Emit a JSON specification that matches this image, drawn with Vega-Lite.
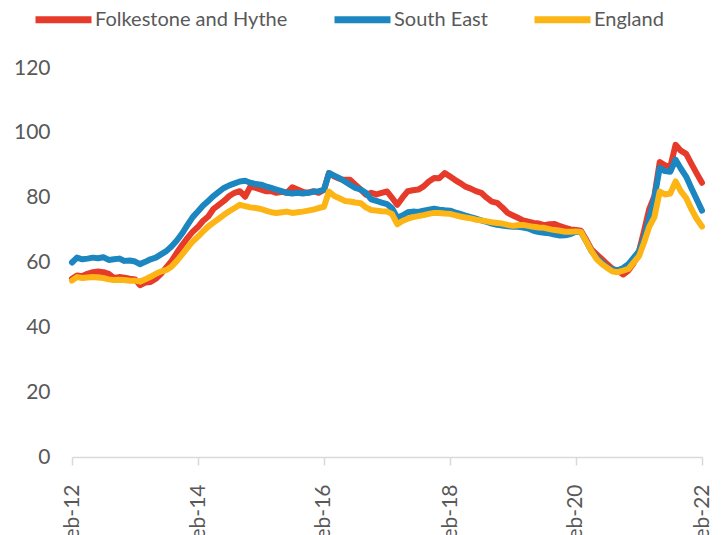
{
 "$schema": "https://vega.github.io/schema/vega-lite/v6.json",
 "width": 630, "height": 389,
 "autosize": {"type": "none"},
 "padding": {"left": 72, "top": 68, "right": 20, "bottom": 78},
 "background": "white",
 "config": {"view": {"stroke": null}, "font": "Lato"},
 "data": {"values": [
  {"d":"2012-02-01","F":55.0,"S":60.0,"E":54.4},
  {"d":"2012-03-01","F":56.0,"S":61.5,"E":55.5},
  {"d":"2012-04-01","F":55.8,"S":61.0,"E":55.2},
  {"d":"2012-05-01","F":56.5,"S":61.2,"E":55.4},
  {"d":"2012-06-01","F":57.0,"S":61.5,"E":55.5},
  {"d":"2012-07-01","F":57.2,"S":61.3,"E":55.4},
  {"d":"2012-08-01","F":57.0,"S":61.6,"E":55.2},
  {"d":"2012-09-01","F":56.5,"S":60.8,"E":54.8},
  {"d":"2012-10-01","F":55.2,"S":61.0,"E":54.6},
  {"d":"2012-11-01","F":55.5,"S":61.2,"E":54.7},
  {"d":"2012-12-01","F":55.3,"S":60.5,"E":54.6},
  {"d":"2013-01-01","F":55.0,"S":60.6,"E":54.4},
  {"d":"2013-02-01","F":54.8,"S":60.3,"E":54.4},
  {"d":"2013-03-01","F":53.0,"S":59.5,"E":54.1},
  {"d":"2013-04-01","F":53.8,"S":60.2,"E":54.8},
  {"d":"2013-05-01","F":54.0,"S":61.0,"E":55.6},
  {"d":"2013-06-01","F":55.0,"S":61.5,"E":56.5},
  {"d":"2013-07-01","F":56.5,"S":62.5,"E":57.2},
  {"d":"2013-08-01","F":58.5,"S":63.5,"E":57.7},
  {"d":"2013-09-01","F":60.5,"S":65.0,"E":58.8},
  {"d":"2013-10-01","F":63.0,"S":66.8,"E":60.5},
  {"d":"2013-11-01","F":65.4,"S":69.0,"E":62.5},
  {"d":"2013-12-01","F":67.5,"S":71.5,"E":64.5},
  {"d":"2014-01-01","F":69.5,"S":74.0,"E":66.5},
  {"d":"2014-02-01","F":71.0,"S":75.8,"E":68.0},
  {"d":"2014-03-01","F":72.8,"S":77.5,"E":69.5},
  {"d":"2014-04-01","F":74.2,"S":79.0,"E":71.1},
  {"d":"2014-05-01","F":76.5,"S":80.5,"E":72.3},
  {"d":"2014-06-01","F":77.8,"S":81.8,"E":73.5},
  {"d":"2014-07-01","F":79.0,"S":83.0,"E":74.7},
  {"d":"2014-08-01","F":80.5,"S":83.8,"E":75.8},
  {"d":"2014-09-01","F":81.5,"S":84.4,"E":76.8},
  {"d":"2014-10-01","F":82.0,"S":85.0,"E":77.8},
  {"d":"2014-11-01","F":80.3,"S":85.2,"E":77.4},
  {"d":"2014-12-01","F":83.4,"S":84.6,"E":77.0},
  {"d":"2015-01-01","F":83.0,"S":84.2,"E":76.8},
  {"d":"2015-02-01","F":82.5,"S":84.0,"E":76.5},
  {"d":"2015-03-01","F":82.0,"S":83.5,"E":76.0},
  {"d":"2015-04-01","F":82.0,"S":83.0,"E":75.5},
  {"d":"2015-05-01","F":81.5,"S":82.5,"E":75.3},
  {"d":"2015-06-01","F":81.8,"S":82.0,"E":75.5},
  {"d":"2015-07-01","F":81.5,"S":81.5,"E":75.7},
  {"d":"2015-08-01","F":83.2,"S":81.3,"E":75.3},
  {"d":"2015-09-01","F":82.5,"S":81.5,"E":75.5},
  {"d":"2015-10-01","F":81.8,"S":81.3,"E":75.7},
  {"d":"2015-11-01","F":81.5,"S":81.5,"E":76.0},
  {"d":"2015-12-01","F":82.0,"S":81.8,"E":76.3},
  {"d":"2016-01-01","F":81.5,"S":82.0,"E":76.8},
  {"d":"2016-02-01","F":82.4,"S":82.4,"E":77.2},
  {"d":"2016-03-01","F":87.6,"S":87.6,"E":81.9},
  {"d":"2016-04-01","F":86.5,"S":86.8,"E":80.5},
  {"d":"2016-05-01","F":85.8,"S":86.0,"E":79.8},
  {"d":"2016-06-01","F":85.5,"S":85.0,"E":79.0},
  {"d":"2016-07-01","F":85.5,"S":84.0,"E":78.8},
  {"d":"2016-08-01","F":84.0,"S":83.0,"E":78.5},
  {"d":"2016-09-01","F":82.5,"S":82.5,"E":78.3},
  {"d":"2016-10-01","F":80.9,"S":81.5,"E":77.0},
  {"d":"2016-11-01","F":81.5,"S":79.5,"E":76.2},
  {"d":"2016-12-01","F":81.0,"S":79.0,"E":76.0},
  {"d":"2017-01-01","F":81.5,"S":78.5,"E":75.8},
  {"d":"2017-02-01","F":81.9,"S":78.0,"E":75.7},
  {"d":"2017-03-01","F":80.0,"S":76.8,"E":75.0},
  {"d":"2017-04-01","F":77.8,"S":73.8,"E":71.8},
  {"d":"2017-05-01","F":80.0,"S":74.5,"E":72.8},
  {"d":"2017-06-01","F":82.0,"S":75.5,"E":73.5},
  {"d":"2017-07-01","F":82.3,"S":75.7,"E":74.0},
  {"d":"2017-08-01","F":82.5,"S":75.6,"E":74.3},
  {"d":"2017-09-01","F":83.5,"S":76.0,"E":74.6},
  {"d":"2017-10-01","F":85.0,"S":76.3,"E":75.0},
  {"d":"2017-11-01","F":86.1,"S":76.6,"E":75.3},
  {"d":"2017-12-01","F":86.0,"S":76.3,"E":75.3},
  {"d":"2018-01-01","F":87.6,"S":76.1,"E":75.1},
  {"d":"2018-02-01","F":86.5,"S":76.0,"E":75.0},
  {"d":"2018-03-01","F":85.5,"S":75.5,"E":74.6},
  {"d":"2018-04-01","F":84.5,"S":75.0,"E":74.2},
  {"d":"2018-05-01","F":83.4,"S":74.5,"E":73.9},
  {"d":"2018-06-01","F":82.8,"S":74.0,"E":73.6},
  {"d":"2018-07-01","F":82.0,"S":73.5,"E":73.2},
  {"d":"2018-08-01","F":81.5,"S":73.0,"E":73.0},
  {"d":"2018-09-01","F":80.0,"S":72.5,"E":72.7},
  {"d":"2018-10-01","F":78.8,"S":72.0,"E":72.4},
  {"d":"2018-11-01","F":78.4,"S":71.6,"E":72.2},
  {"d":"2018-12-01","F":77.0,"S":71.4,"E":72.0},
  {"d":"2019-01-01","F":75.3,"S":71.2,"E":71.6},
  {"d":"2019-02-01","F":74.5,"S":71.0,"E":71.3},
  {"d":"2019-03-01","F":73.8,"S":71.0,"E":71.5},
  {"d":"2019-04-01","F":73.0,"S":70.8,"E":71.6},
  {"d":"2019-05-01","F":72.6,"S":70.5,"E":71.3},
  {"d":"2019-06-01","F":72.2,"S":69.8,"E":71.0},
  {"d":"2019-07-01","F":72.0,"S":69.4,"E":70.8},
  {"d":"2019-08-01","F":71.5,"S":69.2,"E":70.7},
  {"d":"2019-09-01","F":71.8,"S":69.0,"E":70.3},
  {"d":"2019-10-01","F":71.9,"S":68.6,"E":70.0},
  {"d":"2019-11-01","F":71.2,"S":68.3,"E":69.8},
  {"d":"2019-12-01","F":70.7,"S":68.4,"E":69.5},
  {"d":"2020-01-01","F":70.2,"S":68.8,"E":69.5},
  {"d":"2020-02-01","F":70.0,"S":69.5,"E":69.6},
  {"d":"2020-03-01","F":69.8,"S":69.4,"E":69.4},
  {"d":"2020-04-01","F":67.0,"S":66.5,"E":66.5},
  {"d":"2020-05-01","F":64.0,"S":63.5,"E":63.5},
  {"d":"2020-06-01","F":62.5,"S":61.5,"E":61.0},
  {"d":"2020-07-01","F":61.0,"S":60.0,"E":59.5},
  {"d":"2020-08-01","F":59.5,"S":58.5,"E":58.3},
  {"d":"2020-09-01","F":58.0,"S":57.8,"E":57.2},
  {"d":"2020-10-01","F":57.5,"S":57.6,"E":57.0},
  {"d":"2020-11-01","F":56.3,"S":58.3,"E":57.5},
  {"d":"2020-12-01","F":57.5,"S":59.5,"E":58.0},
  {"d":"2021-01-01","F":59.8,"S":61.5,"E":60.0},
  {"d":"2021-02-01","F":63.5,"S":63.5,"E":62.0},
  {"d":"2021-03-01","F":69.5,"S":67.5,"E":66.0},
  {"d":"2021-04-01","F":76.5,"S":74.0,"E":71.0},
  {"d":"2021-05-01","F":80.5,"S":80.0,"E":74.0},
  {"d":"2021-06-01","F":91.0,"S":89.2,"E":81.9},
  {"d":"2021-07-01","F":90.0,"S":88.2,"E":81.0},
  {"d":"2021-08-01","F":89.5,"S":88.0,"E":81.3},
  {"d":"2021-09-01","F":96.3,"S":91.7,"E":85.0},
  {"d":"2021-10-01","F":94.5,"S":89.0,"E":82.0},
  {"d":"2021-11-01","F":93.5,"S":86.5,"E":79.9},
  {"d":"2021-12-01","F":90.5,"S":83.0,"E":76.5},
  {"d":"2022-01-01","F":87.5,"S":79.5,"E":73.5},
  {"d":"2022-02-01","F":84.6,"S":76.0,"E":71.1}
 ]},
 "transform": [{"fold": ["F", "S", "E"], "as": ["s", "v"]}],
 "mark": {"type": "line", "strokeWidth": 6, "strokeCap": "round", "strokeJoin": "round"},
 "encoding": {
  "x": {"field": "d", "type": "temporal",
   "scale": {"type": "utc", "nice": false,
    "domain": [{"year": 2012, "month": 2, "date": 1, "utc": true}, {"year": 2022, "month": 2, "date": 1, "utc": true}]},
   "axis": {"title": null, "format": "%b-%y", "labelAngle": -90, "labelFontSize": 21, "labelColor": "#595959",
    "domainColor": "#D9D9D9", "domainWidth": 1.5, "tickColor": "#D9D9D9", "tickWidth": 1.5, "tickSize": 8, "labelPadding": 19,
    "grid": false, "labelFlush": false, "labelOverlap": false,
    "values": [
     {"year": 2012, "month": 2, "date": 1, "utc": true},
     {"year": 2014, "month": 2, "date": 1, "utc": true},
     {"year": 2016, "month": 2, "date": 1, "utc": true},
     {"year": 2018, "month": 2, "date": 1, "utc": true},
     {"year": 2020, "month": 2, "date": 1, "utc": true},
     {"year": 2022, "month": 2, "date": 1, "utc": true}]}},
  "y": {"field": "v", "type": "quantitative",
   "scale": {"domain": [0, 120], "nice": false},
   "axis": {"title": null, "values": [0, 20, 40, 60, 80, 100, 120], "grid": false, "domain": false, "ticks": false,
    "labelFontSize": 21, "labelColor": "#595959", "labelPadding": 22}},
  "color": {"field": "s", "type": "nominal",
   "scale": {"domain": ["F", "S", "E"], "range": ["#E63A2A", "#1B86BF", "#FDB515"]},
   "legend": {"orient": "none", "legendX": -40, "legendY": -80, "direction": "horizontal", "title": null,
    "symbolType": "stroke", "symbolSize": 3136, "symbolStrokeWidth": 7,
    "labelFontSize": 20, "labelColor": "#595959", "columnPadding": 32, "labelOffset": 0, "labelLimit": 400,
    "labelExpr": "datum.label == 'F' ? 'Folkestone and Hythe' : datum.label == 'S' ? 'South East' : 'England'"}}
 }
}
